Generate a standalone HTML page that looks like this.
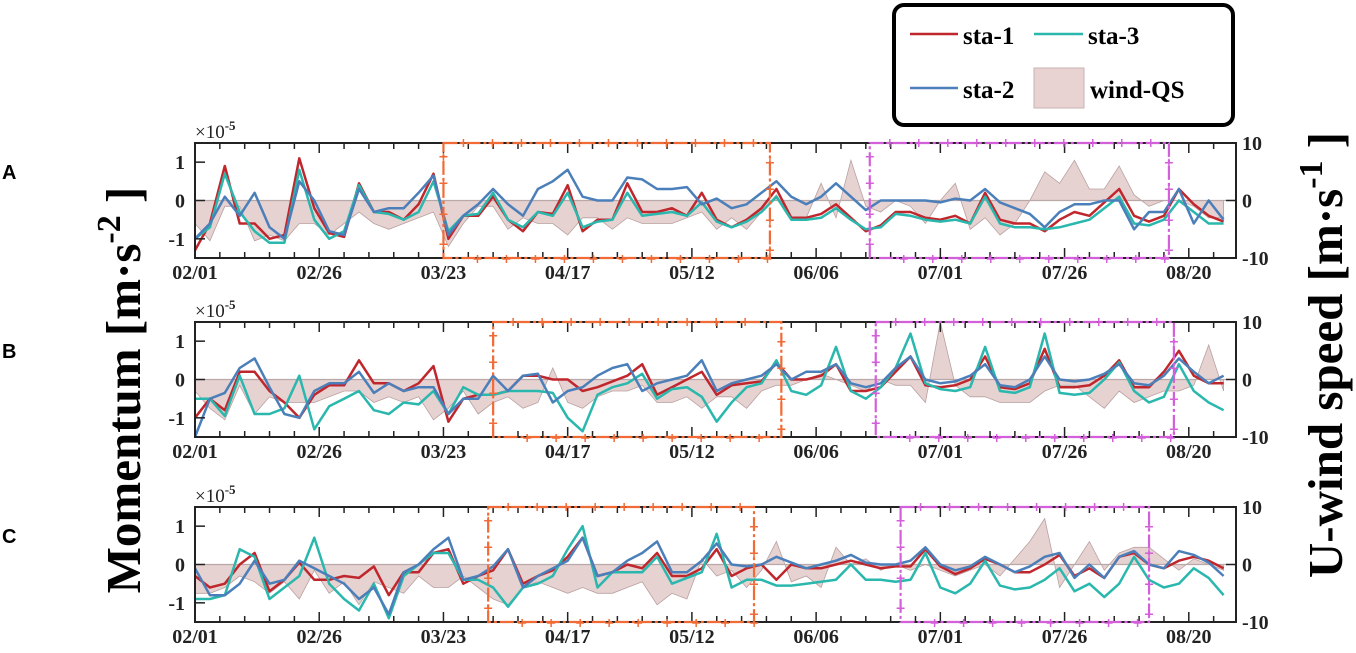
<!DOCTYPE html>
<html><head><meta charset="utf-8"><style>
html,body{margin:0;padding:0;background:#fff;}
svg{display:block;font-family:"Liberation Serif",serif;}
.tk{font-weight:bold;font-size:20px;fill:#222;}
</style></head><body>
<svg id="chart" width="1356" height="653" viewBox="0 0 1356 653" xmlns="http://www.w3.org/2000/svg">
<g id="legend">
<rect x="894" y="5" width="339" height="120" rx="10" fill="#fff" stroke="#000" stroke-width="4"/>
<line x1="910" y1="34" x2="958" y2="34" stroke="#c0272d" stroke-width="2.5"/>
<text x="963" y="44" font-size="25" font-weight="bold">sta-1</text>
<line x1="1034" y1="34" x2="1083" y2="34" stroke="#2ab7ad" stroke-width="2.5"/>
<text x="1088" y="44" font-size="25" font-weight="bold">sta-3</text>
<line x1="910" y1="88" x2="958" y2="88" stroke="#4b7fba" stroke-width="2.5"/>
<text x="963" y="98" font-size="25" font-weight="bold">sta-2</text>
<rect x="1034" y="68" width="50" height="40" fill="#e8d2d2" stroke="#c9b3b3"/>
<text x="1090" y="98" font-size="25" font-weight="bold">wind-QS</text>
</g>
<text transform="translate(140,390) rotate(-90)" text-anchor="middle" font-size="49" font-weight="bold">Momentum [m·s<tspan dy="-20" font-size="34">-2</tspan><tspan dy="20"> ]</tspan></text>
<text transform="translate(1342,355) rotate(-90)" text-anchor="middle" font-size="49" font-weight="bold">U-wind speed [m·s<tspan dy="-20" font-size="34">-1</tspan><tspan dy="20"> ]</tspan></text>
<g id="panels"></g>
</svg>
<script>
const days = [0,3,6,9,12,15,18,21,24,27,30,33,36,39,42,45,48,51,54,57,60,63,66,69,72,75,78,81,84,87,90,93,96,99,102,105,108,111,114,117,120,123,126,129,132,135,138,141,144,147,150,153,156,159,162,165,168,171,174,177,180,183,186,189,192,195,198,201,204,207];
const tickLabels = ["02/01","02/26","03/23","04/17","05/12","06/06","07/01","07/26","08/20"];
const panelLabels = ["A","B","C"];

const redA = [-1.3,-0.6,0.9,-0.6,-0.6,-1.0,-0.9,1.1,-0.2,-0.85,-0.95,0.45,-0.3,-0.3,-0.5,-0.1,0.7,-1.0,-0.4,-0.4,0.1,-0.5,-0.8,-0.3,-0.35,0.4,-0.8,-0.5,-0.5,0.45,-0.3,-0.3,-0.2,-0.4,0.2,-0.5,-0.7,-0.5,-0.2,0.3,-0.45,-0.45,-0.35,-0.1,-0.45,-0.8,-0.65,-0.3,-0.3,-0.45,-0.5,-0.4,-0.6,0.2,-0.5,-0.6,-0.6,-0.8,-0.5,-0.3,-0.4,-0.05,0.3,-0.4,-0.55,-0.4,0.3,-0.1,-0.4,-0.55];
const tealA = [-1.0,-0.7,0.7,-0.3,-0.8,-1.1,-1.1,0.8,-0.5,-1.0,-0.8,0.4,-0.3,-0.35,-0.5,-0.3,0.5,-0.8,-0.4,-0.35,0.2,-0.5,-0.7,-0.3,-0.4,0.2,-0.7,-0.55,-0.5,0.2,-0.4,-0.35,-0.3,-0.4,-0.05,-0.55,-0.7,-0.55,-0.3,0.1,-0.5,-0.5,-0.45,-0.2,-0.5,-0.75,-0.7,-0.35,-0.4,-0.5,-0.55,-0.5,-0.6,0.1,-0.6,-0.7,-0.7,-0.75,-0.7,-0.6,-0.5,-0.2,0.1,-0.6,-0.65,-0.5,0.0,-0.3,-0.6,-0.6];
const blueA = [-1.0,-0.6,0.1,-0.4,0.2,-0.7,-1.0,0.5,0.0,-0.8,-0.9,0.3,-0.3,-0.2,-0.2,0.2,0.65,-0.9,-0.4,-0.1,0.3,-0.1,-0.4,0.3,0.5,0.8,0.1,0.0,0.0,0.6,0.55,0.3,0.3,0.35,-0.1,0.05,-0.2,-0.1,0.2,0.5,0.1,-0.1,0.1,0.45,0.1,-0.25,0.0,0.0,0.0,0.0,-0.05,0.05,0.0,0.3,-0.05,-0.2,-0.35,-0.7,-0.3,-0.1,-0.1,0.0,0.0,-0.75,-0.3,-0.3,0.3,-0.6,0.0,-0.5];
const windA = [-4,-7,-1,-1,-7,-6,-7,-4,-4,-6,-4,-2,-4,-5,-4,-3,-2,-8,-4,-1,-1,-5,-3,-4,-4,-6,-3,-3,-5,-3,-4,-4,-4,-3,-2,-5,-3,-5,-2,1,-3,-3,3,-3,7,-1,-2,0,-1,-4,0,3,-5,-3,-6,-4,0,5,3,7,2,2,6,1,-1,0,0,-1,-3,-3];

const redB = [-1.0,-0.5,-0.8,0.2,0.2,-0.3,-0.6,-1.0,-0.4,-0.15,-0.15,0.5,-0.1,-0.1,-0.3,-0.1,0.35,-1.1,-0.5,-0.4,-0.4,-0.3,0.1,0.1,0.0,0.0,-0.3,-0.2,-0.05,0.1,0.4,-0.4,-0.2,0.0,0.2,-0.4,-0.15,-0.1,-0.05,0.45,0.0,0.0,0.1,0.4,-0.3,-0.3,-0.2,0.2,0.6,-0.15,-0.2,-0.15,0.0,0.6,-0.2,-0.25,-0.1,0.8,-0.2,-0.2,-0.15,0.1,0.5,-0.2,-0.2,0.2,0.75,0.1,-0.1,-0.1];
const tealB = [-0.5,-0.5,-0.95,0.1,-0.9,-0.9,-0.75,0.1,-1.3,-0.7,-0.5,-0.3,-0.8,-0.9,-0.6,-0.65,-0.3,-0.9,-0.2,-0.4,-0.4,-0.3,-0.3,-0.3,-0.35,-1.0,-1.35,-0.4,-0.2,-0.1,0.15,-0.5,-0.25,-0.2,-0.45,-1.1,-0.6,-0.2,-0.1,0.5,-0.3,-0.4,-0.15,0.85,-0.3,-0.5,-0.2,0.3,1.2,-0.1,-0.25,-0.3,-0.2,0.85,-0.3,-0.35,-0.2,1.2,-0.35,-0.4,-0.35,0.0,0.45,-0.3,-0.6,-0.45,0.4,-0.3,-0.6,-0.8];
const blueB = [-1.5,-0.5,-0.35,0.3,0.55,-0.2,-0.9,-1.0,-0.3,-0.1,-0.1,0.2,-0.35,-0.1,-0.3,-0.2,-0.2,-0.9,-0.5,-0.5,0.1,-0.3,0.1,0.15,-0.6,-0.3,-0.2,0.1,0.3,0.4,-0.3,-0.1,0.0,0.1,0.5,-0.3,-0.1,0.0,0.1,0.4,0.0,0.2,0.2,0.4,-0.1,-0.2,-0.1,0.3,0.6,0.0,-0.1,-0.05,0.1,0.4,-0.15,-0.2,0.0,0.6,0.0,-0.05,0.0,0.15,0.4,-0.1,-0.15,0.1,0.55,0.2,-0.1,0.1];
const windB = [-2,-5,-7,-1,-6,-3,-4,-4,-4,-3,-2,-2,-4,-3,-4,-3,-7,-5,-2,-6,-4,-3,-5,-4,2,-4,-5,-3,-2,-2,-1,-4,-4,-3,-5,-3,-3,-5,-2,-1,-1,0,1,0,-1,-2,0,-1,-1,-4,10,-1,-3,-3,-4,-4,-4,-2,-1,-1,-3,-5,-2,-4,-3,-2,-2,-1,6,-2];

const redC = [-0.3,-0.6,-0.5,0.0,0.3,-0.7,-0.4,0.05,-0.4,-0.4,-0.3,-0.35,-0.05,-0.8,-0.2,-0.2,0.3,0.4,-0.5,-0.3,-0.15,0.4,-0.5,-0.3,-0.15,0.2,0.7,-0.3,-0.2,0.0,-0.1,0.3,-0.3,-0.3,-0.1,0.4,-0.3,-0.1,0.0,-0.4,0.0,-0.1,-0.1,0.0,0.1,0.0,-0.1,-0.05,-0.05,0.4,-0.05,-0.25,-0.1,0.15,0.0,-0.2,-0.2,0.0,0.25,-0.3,-0.1,-0.35,0.2,0.3,0.0,-0.1,0.1,0.2,0.1,-0.1];
const tealC = [-0.9,-0.9,-0.8,0.4,0.2,-0.9,-0.6,-0.3,0.7,-0.5,-0.9,-1.2,-0.5,-1.4,-0.3,0.0,0.3,0.3,-0.4,-0.4,-0.6,-1.1,-0.6,-0.5,-0.3,0.4,1.0,-0.6,-0.2,-0.2,-0.2,0.2,-0.5,-0.35,-0.2,0.8,-0.6,-0.4,-0.4,-0.55,-0.55,-0.5,-0.45,-0.4,0.0,-0.4,-0.4,-0.45,-0.4,0.3,-0.6,-0.75,-0.5,0.1,-0.55,-0.65,-0.6,-0.4,-0.1,-0.7,-0.5,-0.85,-0.5,0.2,-0.4,-0.6,-0.5,-0.1,-0.35,-0.8];
const blueC = [-0.1,-0.8,-0.8,-0.5,0.1,-0.5,-0.4,0.1,-0.1,-0.3,-0.5,-0.9,-0.6,-1.3,-0.2,0.0,0.4,0.7,-0.4,-0.3,-0.05,0.4,-0.6,-0.3,-0.1,0.1,0.7,-0.3,-0.2,0.1,0.3,0.6,-0.2,-0.2,0.1,0.55,0.0,-0.05,0.0,0.2,0.05,-0.1,0.0,0.1,0.25,0.05,0.0,0.0,0.1,0.45,0.0,-0.15,-0.05,0.2,0.0,-0.2,-0.05,0.2,0.3,-0.35,0.0,-0.35,0.2,0.35,0.0,-0.1,0.35,0.25,0.05,-0.3];
const windC = [-5,-5,-4,-2,-3,-5,-3,-6,-1,-5,-3,-7,-3,-4,-5,-2,-4,-4,-2,-4,-6,-7,-4,-3,-4,-5,-4,-5,-5,-4,-3,-7,-5,-6,1,-2,-1,-4,-1,4,-3,-2,-4,3,0,1,-1,0,-1,0,-1,-2,-1,0,-2,1,4,8,-4,0,4,-1,2,3,3,1,-1,1,0,-1];

const orangeStart = [50,60,59];
const orangeEnd = [115.7,118,112.5];
const magentaStart = [135.8,137,142];
const magentaEnd = [196,197,192];

const panelData = [
  {red:redA,teal:tealA,blue:blueA,wind:windA},
  {red:redB,teal:tealB,blue:blueB,wind:windB},
  {red:redC,teal:tealC,blue:blueC,wind:windC}
];
const NS="http://www.w3.org/2000/svg";
const X0=195,X1=1236,DMAX=209.5;
const tops=[143,322,507],H=115;
function xs(d){return X0+(X1-X0)*d/DMAX;}
function mk(tag,attrs,parent){const e=document.createElementNS(NS,tag);for(const k in attrs)e.setAttribute(k,attrs[k]);parent.appendChild(e);return e;}
const root=document.getElementById('panels');
const names=['a','b','c'];
panelData.forEach((pd,i)=>{
  const top=tops[i],bot=top+H;
  const ym=v=>top+H/2-v*(H/3);
  const yw=v=>top+H/2-v*(H/20);
  const g=mk('g',{},root);
  
  
  const lab=mk('text',{x:2,y:top+36,'font-family':'Liberation Sans, sans-serif','font-size':20,'font-weight':'bold'},g);
  lab.textContent=panelLabels[i];
  
  
  let d='M'+xs(days[0])+','+yw(0);
  days.forEach((dd,j)=>{d+=' L'+xs(dd).toFixed(1)+','+yw(pd.wind[j]).toFixed(1);});
  d+=' L'+xs(days[days.length-1])+','+yw(0)+' Z';
  const area=mk('path',{d:d,fill:'#e3caca','fill-opacity':0.85,stroke:'#b9a0a0','stroke-width':0.8},g);
  
  
  const zl=mk('line',{x1:X0,x2:X1,y1:ym(0),y2:ym(0),stroke:'#b8a8a8','stroke-width':1.2},g);
  
  
  [['red','#c0272d'],['teal','#2ab7ad'],['blue','#4b7fba']].forEach(([k,c])=>{
    const pts=days.map((dd,j)=>xs(dd).toFixed(1)+','+Math.max(top,Math.min(bot,ym(pd[k][j]))).toFixed(1)).join(' ');
    const pl=mk('polyline',{points:pts,fill:'none',stroke:c,'stroke-width':2.5,'stroke-linejoin':'round'},g);
    
    
  });
  const ax=mk('rect',{x:X0,y:top,width:X1-X0,height:H,fill:'none',stroke:'#222','stroke-width':2},g);
  
  
  for(let dd=0;dd<=DMAX;dd+=5){
    const major=dd%25===0, L=major?10:6;
    mk('line',{x1:xs(dd),x2:xs(dd),y1:bot,y2:bot-L,stroke:'#222','stroke-width':1.5},g);
    mk('line',{x1:xs(dd),x2:xs(dd),y1:top,y2:top+L,stroke:'#222','stroke-width':1.5},g);
  }
  tickLabels.forEach((t,j)=>{
    const tx=mk('text',{x:xs(j*25),y:bot+21,'text-anchor':'middle',class:'tk'},g);
    tx.textContent=t;
    
    
  });
  [1,0,-1].forEach(v=>{
    mk('line',{x1:X0,x2:X0+10,y1:ym(v),y2:ym(v),stroke:'#222','stroke-width':1.5},g);
    const tx=mk('text',{x:X0-10,y:ym(v)+7,'text-anchor':'end',class:'tk'},g);
    tx.textContent=String(v);
    
    
  });
  [10,0,-10].forEach(v=>{
    mk('line',{x1:X1,x2:X1-10,y1:yw(v),y2:yw(v),stroke:'#222','stroke-width':1.5},g);
    const tx=mk('text',{x:X1+6,y:yw(v)+7,'text-anchor':'start',class:'tk'},g);
    tx.textContent=String(v);
    
    
  });
  const ex=mk('text',{x:X0,y:top-5,'font-size':19,fill:'#222'},g);
  ex.innerHTML='×10<tspan dy="-8" font-size="13" font-weight="bold">-5</tspan>';
  
  
  [[orangeStart[i],orangeEnd[i],'#f26a35','orange'],[magentaStart[i],magentaEnd[i],'#d35fda','magenta']].forEach(([a,b,c,nm])=>{
    const bx=mk('g',{},g);
    
    
    mk('rect',{x:xs(a),y:top,width:xs(b)-xs(a),height:H,fill:'none',stroke:c,'stroke-width':2.2,'stroke-dasharray':'14,3,3,3'},bx);
    for(let x=xs(a)+20;x<xs(b)-8;x+=29){
      mk('path',{d:`M${x-4},${top} h8 M${x},${top-4} v8 M${x+10},${bot+1} h8 M${x+14},${bot-3} v8`,stroke:c,'stroke-width':1.5},bx);
    }
    [0.12,0.35,0.62,0.88].forEach(f=>{
      const y=top+H*f;
      mk('path',{d:`M${xs(a)-4},${y} h8 M${xs(a)},${y-4} v8 M${xs(b)-4},${y+6} h8 M${xs(b)},${y+2} v8`,stroke:c,'stroke-width':1.5},bx);
    });
  });
});
</script>
</body></html>
